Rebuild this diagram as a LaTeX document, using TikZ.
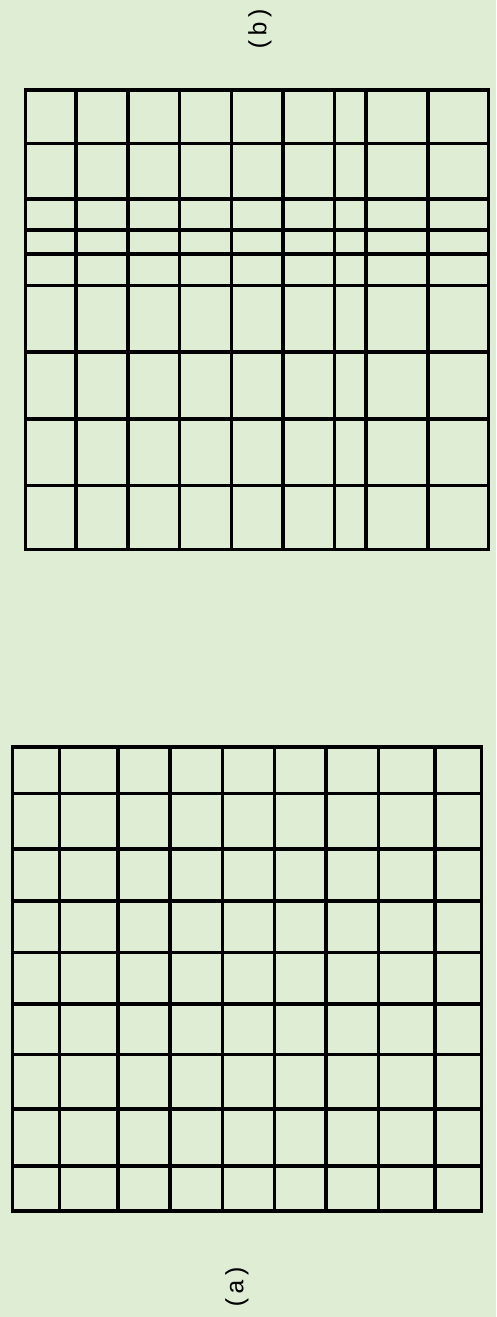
\documentclass[tikz,border=0pt]{standalone}
\usepackage{fontspec}
\setmonofont{Liberation Mono}
\definecolor{paper}{HTML}{DFEDD5}

\begin{document}
\begin{tikzpicture}[x=1pt, y=-1pt, line width=3.3pt, line cap=rect,
    lbl/.style={font=\ttfamily\fontsize{25}{27}\selectfont, rotate=90}]
  \useasboundingbox (0,0) rectangle (496,1317);
  \fill[paper] (0,0) rectangle (496,1317);

  % grid (b), uneven rows and columns
  \foreach \y in {90,143.5,199,230,254,285.5,352,419,485.5,549.5}
    \draw (25.5,\y) -- (488.5,\y);
  \foreach \x in {25.5,76,128,179.5,231.5,283,334.5,366,428,488.5}
    \draw (\x,90) -- (\x,549.5);

  % grid (a), nearly even
  \foreach \y in {747,793.5,849,901,952.5,1004,1054.5,1109,1166,1211}
    \draw (12.5,\y) -- (481.5,\y);
  \foreach \x in {12.5,59.5,118,170,222.5,274.5,326,378.5,435,481.5}
    \draw (\x,747) -- (\x,1211);

  \node[lbl] (lb) at (260,29) {(b)};
  \node[lbl] (la) at (237,1287) {(a)};
\end{tikzpicture}
\end{document}
